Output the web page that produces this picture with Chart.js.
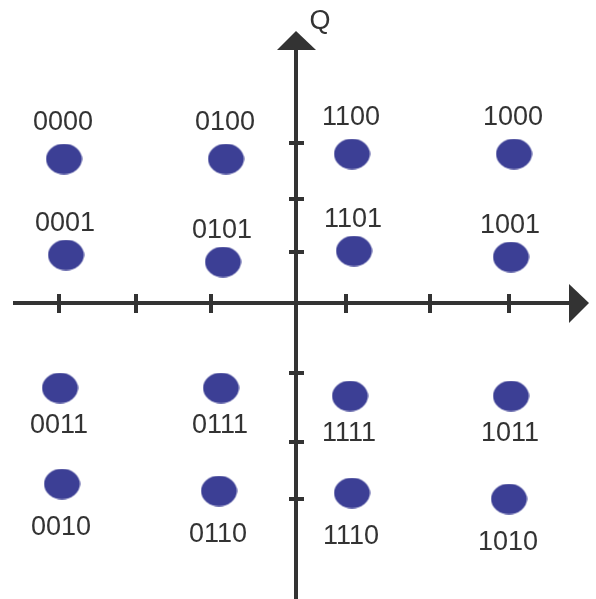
<!DOCTYPE html>
<html>
<head>
<meta charset="utf-8">
<title>16-QAM constellation</title>
<script src="https://cdn.jsdelivr.net/npm/chart.js@4.4.1/dist/chart.umd.min.js"></script>
<style>
  body { margin: 0; background: #fff; }
  #wrap { width: 596px; height: 599px; position: relative; }
</style>
</head>
<body>
<div id="wrap"><canvas id="myChart"></canvas></div>
<script>
// symbols (I = in-phase, Q = quadrature)
const symbols = ['0000', '0100', '1100', '1000',
                 '0001', '0101', '1101', '1001',
                 '0011', '0111', '1111', '1011',
                 '0010', '0110', '1110', '1010'];
const iValues = [-2.32, -0.70, 0.56, 2.18,
                 -2.30, -0.73, 0.58, 2.15,
                 -2.36, -0.75, 0.54, 2.15,
                 -2.34, -0.77, 0.56, 2.13];
const qValues = [1.44, 1.44, 1.49, 1.49,
                 0.48, 0.41, 0.52, 0.46,
                 -0.85, -0.85, -0.93, -0.93,
                 -1.81, -1.88, -1.90, -1.96];
// tick marks on the two axes
const iTicks = [-2.37, -1.60, -0.85, 0.50, 1.34, 2.13];
const qTicks = [1.60, 1.04, 0.51, -0.70, -1.39, -1.96];
const axisName = 'Q';

const ink = '#333333';
const dotColor = '#3c3f95';

// ellipse marker
const dot = document.createElement('canvas');
dot.width = 37;
dot.height = 31;
const dctx = dot.getContext('2d');
dctx.fillStyle = dotColor;
dctx.beginPath();
dctx.ellipse(18.5, 15.5, 18, 15.3, 0, 0, Math.PI * 2);
dctx.fill();

const axesPlugin = {
  id: 'axes',
  beforeDatasetsDraw(chart) {
    const ctx = chart.ctx;
    const x = chart.scales.x, y = chart.scales.y;
    const x0 = x.getPixelForValue(0);
    const y0 = y.getPixelForValue(0);
    const xStart = x.getPixelForValue(-2.83);
    const xTip = x.getPixelForValue(2.93);
    const yTip = y.getPixelForValue(2.72);
    const yEnd = y.getPixelForValue(-2.96);

    ctx.save();
    ctx.strokeStyle = ink;
    ctx.fillStyle = ink;
    ctx.lineWidth = 4;
    ctx.lineCap = 'butt';

    // horizontal axis
    ctx.beginPath();
    ctx.moveTo(xStart, y0);
    ctx.lineTo(xTip - 18, y0);
    ctx.stroke();
    // vertical axis
    ctx.beginPath();
    ctx.moveTo(x0, yEnd);
    ctx.lineTo(x0, yTip + 18);
    ctx.stroke();

    // ticks
    iTicks.forEach(v => {
      const px = x.getPixelForValue(v);
      ctx.beginPath();
      ctx.moveTo(px, y0 - 9);
      ctx.lineTo(px, y0 + 10);
      ctx.stroke();
    });
    qTicks.forEach(v => {
      const py = y.getPixelForValue(v);
      ctx.beginPath();
      ctx.moveTo(x0 - 7, py);
      ctx.lineTo(x0 + 8, py);
      ctx.stroke();
    });

    // arrow heads
    ctx.beginPath();
    ctx.moveTo(xTip, y0);
    ctx.lineTo(xTip - 20, y0 - 19);
    ctx.lineTo(xTip - 20, y0 + 20);
    ctx.closePath();
    ctx.fill();

    ctx.beginPath();
    ctx.moveTo(x0, yTip);
    ctx.lineTo(x0 - 19, yTip + 19);
    ctx.lineTo(x0 + 20, yTip + 19);
    ctx.closePath();
    ctx.fill();

    ctx.font = '27px "Liberation Sans", Arial, sans-serif';
    ctx.textAlign = 'center';
    ctx.textBaseline = 'middle';
    ctx.fillText(axisName, x0 + 24, yTip - 9);
    ctx.restore();
  },
  afterDatasetsDraw(chart) {
    const ctx = chart.ctx;
    const meta = chart.getDatasetMeta(0);
    ctx.save();
    ctx.fillStyle = ink;
    ctx.font = '27px "Liberation Sans", Arial, sans-serif';
    ctx.textAlign = 'center';
    ctx.textBaseline = 'middle';
    meta.data.forEach((pt, i) => {
      const q = qValues[i];
      let dy;
      if (q > 1) dy = -36;
      else if (q > 0) dy = -31;
      else if (q > -1.4) dy = 38;
      else dy = 44;
      ctx.fillText(symbols[i], pt.x - 1, pt.y + dy);
    });
    ctx.restore();
  }
};

new Chart(document.getElementById('myChart'), {
  type: 'scatter',
  data: {
    labels: symbols,
    datasets: [{
      data: iValues.map((v, i) => ({ x: v, y: qValues[i] })),
      pointStyle: dot,
      pointRadius: 16,
      pointHoverRadius: 16,
      backgroundColor: dotColor,
      borderWidth: 0,
      clip: false
    }]
  },
  options: {
    responsive: true,
    maintainAspectRatio: false,
    animation: false,
    layout: { padding: 0, autoPadding: false },
    plugins: {
      legend: { display: false },
      tooltip: { enabled: false }
    },
    scales: {
      x: { type: 'linear', min: -2.96, max: 3.00, display: false },
      y: { type: 'linear', min: -2.96, max: 3.03, display: false }
    }
  },
  plugins: [axesPlugin]
});
</script>
</body>
</html>
